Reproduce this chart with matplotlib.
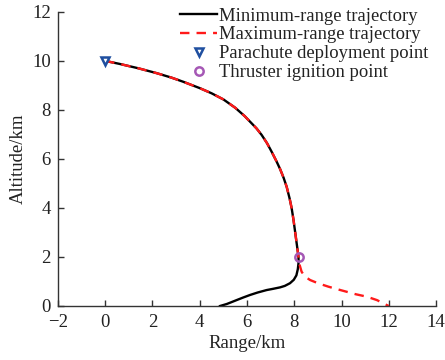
import matplotlib
matplotlib.use("Agg")
import matplotlib.pyplot as plt

plt.rcParams['font.family'] = ['Liberation Serif', 'DejaVu Serif']

# Shared descent (parachute phase), km
upper_x = [0.0, 0.6, 1.4, 2.18, 2.8, 3.3, 4.0, 4.5, 5.0, 5.5, 5.9, 6.13, 6.4, 6.62, 6.85,
           7.04, 7.25, 7.40, 7.55, 7.68, 7.8, 7.89, 7.97, 8.04, 8.11, 8.18]
upper_y = [10.0, 9.88, 9.7, 9.5, 9.32, 9.15, 8.89, 8.68, 8.43, 8.09, 7.75, 7.52, 7.25, 6.98, 6.64,
           6.30, 5.90, 5.59, 5.23, 4.86, 4.4, 3.99, 3.5, 3.0, 2.5, 2.0]

# Powered phase
min_low_x = [8.18, 8.18, 8.15, 8.09, 7.98, 7.82, 7.6, 7.40, 7.1, 6.83, 6.45, 6.13, 5.85, 5.56, 5.3, 5.14, 4.86]
min_low_y = [2.0, 1.75, 1.5, 1.25, 1.07, 0.93, 0.82, 0.76, 0.70, 0.65, 0.55, 0.45, 0.35, 0.24, 0.14, 0.08, 0.0]
max_low_x = [8.18, 8.22, 8.31, 8.45, 8.67, 9.0, 9.44, 9.8, 10.22, 10.6, 11.07, 11.5, 11.91, 12.0]
max_low_y = [2.0, 1.7, 1.4, 1.2, 1.06, 0.93, 0.79, 0.69, 0.58, 0.48, 0.38, 0.24, 0.04, 0.0]

min_x = upper_x + min_low_x[1:]
min_y = upper_y + min_low_y[1:]
max_x = upper_x + max_low_x[1:]
max_y = upper_y + max_low_y[1:]

para_pt = (0.0, 10.0)
ign_pt = (8.18, 2.0)

xticks = [-2, 0, 2, 4, 6, 8, 10, 12, 14]
yticks = [0, 2, 4, 6, 8, 10, 12]

fig = plt.figure(figsize=(4.45, 3.6), dpi=100)
ax = fig.add_axes([0.130, 0.150, 0.850, 0.817])

ax.plot(min_x, min_y, color='black', lw=1.7, label='Minimum-range trajectory', solid_joinstyle='round')
ax.plot(max_x, max_y, color='#ff1a1a', lw=1.7, ls=(0, (4, 3)), label='Maximum-range trajectory')
ax.plot([para_pt[0]], [para_pt[1]], ls='none', marker='v', ms=6, mfc='white', mec='#1f4fa0', mew=1.8,
        label='Parachute deployment point')
ax.plot([ign_pt[0]], [ign_pt[1]], ls='none', marker='o', ms=6, mfc='none', mec='#a558b5', mew=1.8,
        label='Thruster ignition point')

ax.set_xlim(-2, 14)
ax.set_ylim(0, 12)
ax.set_xticks(xticks)
ax.set_yticks(yticks)
ax.set_xticklabels(['\u22122' if t == -2 else str(t) for t in xticks])
ax.spines['top'].set_visible(False)
ax.spines['right'].set_visible(False)
for s in ('left', 'bottom'):
    ax.spines[s].set_color('#333333')
    ax.spines[s].set_linewidth(1.0)
ax.tick_params(direction='in', length=4, width=1.0, colors='#333333', labelsize=13.5, labelcolor='#222222')
ax.tick_params(axis='x', pad=6)
ax.tick_params(axis='y', pad=5)
ax.set_xlabel('Range/km', fontsize=13.5, color='#222222', labelpad=3)
ax.set_ylabel('Altitude/km', fontsize=13.5, color='#222222', labelpad=4)

leg = ax.legend(loc='upper right', bbox_to_anchor=(1.0, 1.04), frameon=False, fontsize=13.4,
                handlelength=2.0, handletextpad=0.1, labelspacing=0.1, borderaxespad=0.0)
for t in leg.get_texts():
    t.set_color('#222222')

fig.savefig('out.png', dpi=100)
